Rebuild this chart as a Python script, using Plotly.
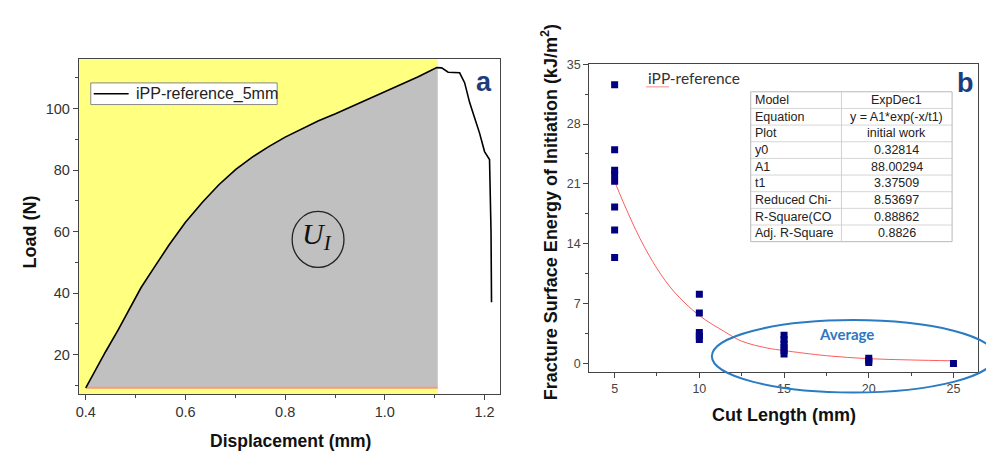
import plotly.graph_objects as go

# ---------------- Panel a : load vs displacement ----------------
displacement = [0.400, 0.420, 0.440, 0.465, 0.487, 0.511, 0.540, 0.567, 0.600, 0.634,
                0.667, 0.701, 0.734, 0.767, 0.800, 0.834, 0.867, 0.901, 0.934, 0.967,
                1.000, 1.034, 1.067, 1.104, 1.114, 1.127, 1.150, 1.160, 1.170, 1.180,
                1.190, 1.200, 1.210, 1.213, 1.214]
load = [9.2, 15.2, 21.0, 28.0, 34.8, 41.8, 49.0, 55.6, 63.0, 69.5,
        75.2, 80.2, 84.2, 87.6, 90.7, 93.5, 96.0, 98.3, 100.7, 103.1,
        105.5, 107.9, 110.3, 113.3, 113.2, 111.8, 111.6, 108.4, 102.0, 97.0,
        92.0, 86.0, 83.4, 60.0, 37.0]
initiation_disp = 1.106      # end of the shaded initiation-work area
baseline_load = 9.2          # lower edge of the shaded area
legend_label = "iPP-reference_5mm"
a_xticks = [0.4, 0.6, 0.8, 1.0, 1.2]
a_yticks = [20, 40, 60, 80, 100]

# ---------------- Panel b : fracture surface energy ----------------
cut_length = [5, 5, 5, 5, 5, 5, 5, 5,
              10, 10, 10, 10, 10,
              15, 15, 15, 15, 15, 15,
              20, 20, 20,
              25]
energy = [32.6, 25.0, 22.6, 22.1, 21.3, 18.3, 15.6, 12.4,
          8.1, 5.9, 3.6, 3.2, 2.8,
          3.3, 2.8, 2.3, 1.9, 1.5, 1.1,
          0.6, 0.35, 0.1,
          0.0]
fit_x = [5, 5.5, 6.5, 7.5, 8.5, 10, 11.5, 12.5, 14, 15, 17.5, 20, 22.5, 25]
fit_y = [21.3, 18.9, 14.6, 11.1, 8.4, 5.6, 3.7, 2.6, 1.8, 1.5, 0.9, 0.55, 0.4, 0.3]
b_xticks = [5, 10, 15, 20, 25]
b_yticks = [0, 7, 14, 21, 28, 35]
table_params = ["Model", "Equation", "Plot", "y0", "A1", "t1",
                "Reduced Chi-", "R-Square(CO", "Adj. R-Square"]
table_values = ["ExpDec1", "y = A1*exp(-x/t1)", "initial work", "0.32814",
                "88.00294", "3.37509", "8.53697", "0.88862", "0.8826"]

# page is 994x460; the default 8px body margin is left around the figure
PAGE_MARGIN = 8
W, H = 994 - 2 * PAGE_MARGIN, 460 - 2 * PAGE_MARGIN
SANS = "Liberation Sans, Arial, sans-serif"


def px(x):
    return (x - PAGE_MARGIN) / W


def py(y):
    return 1 - (y - PAGE_MARGIN) / H


fig = go.Figure()

# shaded initiation work area
fill_x = displacement[:24] + [initiation_disp, initiation_disp, displacement[0]]
fill_y = load[:24] + [load[23], baseline_load, baseline_load]
fig.add_trace(go.Scatter(x=fill_x, y=fill_y, fill="toself", fillcolor="#C0C0C0",
                         mode="lines", line=dict(width=0), hoverinfo="skip",
                         xaxis="x", yaxis="y"))
fig.add_trace(go.Scatter(x=[displacement[0], initiation_disp],
                         y=[baseline_load, baseline_load], mode="lines",
                         line=dict(color="#F79A78", width=2), xaxis="x", yaxis="y"))
fig.add_trace(go.Scatter(x=displacement, y=load, mode="lines",
                         line=dict(color="black", width=1.6), xaxis="x", yaxis="y"))

# panel b
fig.add_trace(go.Scatter(x=fit_x, y=fit_y, mode="lines",
                         line=dict(color="#FF5C5C", width=1, shape="spline"),
                         xaxis="x2", yaxis="y2"))
fig.add_trace(go.Scatter(x=cut_length, y=energy, mode="markers",
                         marker=dict(symbol="square", size=7, color="#000080"),
                         xaxis="x2", yaxis="y2"))

axis_common = dict(showgrid=False, zeroline=False, showline=True, linecolor="#444",
                   linewidth=1, mirror=True, ticks="outside", ticklen=5,
                   tickcolor="#444", tickwidth=1)

shapes = []
annotations = []

# yellow background of panel a
shapes.append(dict(type="rect", xref="x", yref="y domain", x0=0.38, x1=initiation_disp,
                   y0=0, y1=1, fillcolor="#FFFF80", line=dict(width=0), layer="below"))

# legend box
shapes.append(dict(type="rect", xref="paper", yref="paper", x0=px(88), x1=px(275),
                   y0=py(99), y1=py(77), fillcolor="white", line=dict(color="#888", width=1)))
shapes.append(dict(type="line", xref="paper", yref="paper", x0=px(91), x1=px(126),
                   y0=py(88), y1=py(88), line=dict(color="black", width=1.5)))
annotations.append(dict(xref="paper", yref="paper", x=px(131), y=py(88.5), text=legend_label,
                        showarrow=False, xanchor="left", yanchor="middle",
                        font=dict(family=SANS, size=16, color="#222")))

# U_I circle
shapes.append(dict(type="circle", xref="paper", yref="paper", x0=px(290), x1=px(342),
                   y0=py(264.5), y1=py(207.5), line=dict(color="#222", width=1.3)))
annotations.append(dict(xref="paper", yref="paper", x=px(315), y=py(233),
                        text="<i>U</i><sub><i>I</i></sub>", showarrow=False,
                        xanchor="center", yanchor="middle",
                        font=dict(family="Liberation Serif, serif", size=30, color="#111")))

# panel labels
annotations.append(dict(xref="paper", yref="paper", x=px(482), y=py(76), text="<b>a</b>",
                        showarrow=False, xanchor="center", yanchor="middle",
                        font=dict(family=SANS, size=27, color="#1F3D7A")))
annotations.append(dict(xref="paper", yref="paper", x=px(965), y=py(77), text="<b>b</b>",
                        showarrow=False, xanchor="center", yanchor="middle",
                        font=dict(family=SANS, size=27, color="#1F3D7A")))

# axis titles
annotations.append(dict(xref="paper", yref="paper", x=px(27), y=py(228),
                        text="<b>Load (N)</b>", textangle=-90, showarrow=False,
                        xanchor="center", yanchor="middle",
                        font=dict(family=SANS, size=18, color="#111")))
annotations.append(dict(xref="paper", yref="paper", x=px(288), y=py(441),
                        text="<b>Displacement (mm)</b>", showarrow=False,
                        xanchor="center", yanchor="middle",
                        font=dict(family=SANS, size=17.5, color="#111")))
annotations.append(dict(xref="paper", yref="paper", x=px(549), y=py(208),
                        text="<b>Fracture Surface Energy of Initiation (kJ/m<sup>2</sup>)</b>",
                        textangle=-90, showarrow=False, xanchor="center", yanchor="middle",
                        font=dict(family=SANS, size=18, color="#111")))
annotations.append(dict(xref="paper", yref="paper", x=px(783), y=py(414),
                        text="<b>Cut Length (mm)</b>", showarrow=False,
                        xanchor="center", yanchor="middle",
                        font=dict(family=SANS, size=18, color="#111")))

# iPP-reference label with spell-check squiggle
annotations.append(dict(xref="paper", yref="paper", x=px(645), y=py(72),
                        text="iPP-reference", showarrow=False, xanchor="left",
                        yanchor="middle", font=dict(family="Lato, sans-serif", size=15.5, color="#333")))
shapes.append(dict(type="line", xref="paper", yref="paper", x0=px(645), x1=px(668),
                   y0=py(81), y1=py(81), line=dict(color="rgba(240,90,90,0.7)", width=1)))

# fit table
t_left, t_mid, t_right, t_top, t_bot = 750, 841, 952, 86, 238.3
row_h = (t_bot - t_top) / len(table_params)
for i in range(1, len(table_params)):
    yy = t_top + i * row_h
    shapes.append(dict(type="line", xref="paper", yref="paper", x0=px(t_left), x1=px(t_right),
                       y0=py(yy), y1=py(yy), line=dict(color="#D6D6D6", width=1)))
shapes.append(dict(type="rect", xref="paper", yref="paper", x0=px(t_left), x1=px(t_right),
                   y0=py(t_bot), y1=py(t_top), line=dict(color="#B8B8B8", width=1)))
shapes.append(dict(type="line", xref="paper", yref="paper", x0=px(t_mid), x1=px(t_mid),
                   y0=py(t_bot), y1=py(t_top), line=dict(color="#D0D0D0", width=1)))
for i, (p, v) in enumerate(zip(table_params, table_values)):
    yc = t_top + (i + 0.5) * row_h
    annotations.append(dict(xref="paper", yref="paper", x=px(t_left + 2.5), y=py(yc), text=p,
                            showarrow=False, xanchor="left", yanchor="middle",
                            font=dict(family=SANS, size=12.5, color="#222")))
    annotations.append(dict(xref="paper", yref="paper", x=px((t_mid + t_right) / 2), y=py(yc),
                            text=v, showarrow=False, xanchor="center", yanchor="middle",
                            font=dict(family=SANS, size=12.5, color="#222")))

# "Average" ellipse
shapes.append(dict(type="circle", xref="paper", yref="paper", x0=px(711), x1=px(995),
                   y0=py(391.5), y1=py(318), line=dict(color="#2A7BC4", width=2)))
annotations.append(dict(xref="paper", yref="paper", x=px(846), y=py(332), text="<b>Average</b>",
                        showarrow=False, xanchor="center", yanchor="middle",
                        font=dict(family="Lato, sans-serif", size=15, color="#2E78C0")))

fig.update_layout(
    width=W, height=H, margin=dict(l=0, r=0, t=0, b=0),
    paper_bgcolor="white", plot_bgcolor="white", showlegend=False,
    xaxis=dict(domain=[px(76), px(499)], range=[0.386, 1.232], tickvals=a_xticks,
               ticktext=[f"{v:.1f}" for v in a_xticks],
               minor=dict(dtick=0.1, tick0=0.4, ticks="outside", ticklen=3, tickcolor="#444"),
               tickfont=dict(family=SANS, size=14.5, color="#333"), anchor="y", **axis_common),
    yaxis=dict(domain=[py(393), py(53)], range=[7.2, 116], tickvals=a_yticks,
               minor=dict(dtick=10, tick0=0, ticks="outside", ticklen=3, tickcolor="#444"),
               tickfont=dict(family=SANS, size=14.5, color="#333"), anchor="x", **axis_common),
    xaxis2=dict(domain=[px(588), px(978)], range=[3.5, 26.45], tickvals=b_xticks,
                minor=dict(dtick=2.5, tick0=0, ticks="outside", ticklen=3, tickcolor="#444"),
                tickfont=dict(family=SANS, size=12.5, color="#444"), anchor="y2", **axis_common),
    yaxis2=dict(domain=[py(371), py(58)], range=[-1.04, 35], tickvals=b_yticks,
                minor=dict(dtick=3.5, tick0=0, ticks="outside", ticklen=3, tickcolor="#444"),
                tickfont=dict(family=SANS, size=12.5, color="#444"), anchor="x2", **axis_common),
    shapes=shapes, annotations=annotations,
)

fig.write_html("out.html")
